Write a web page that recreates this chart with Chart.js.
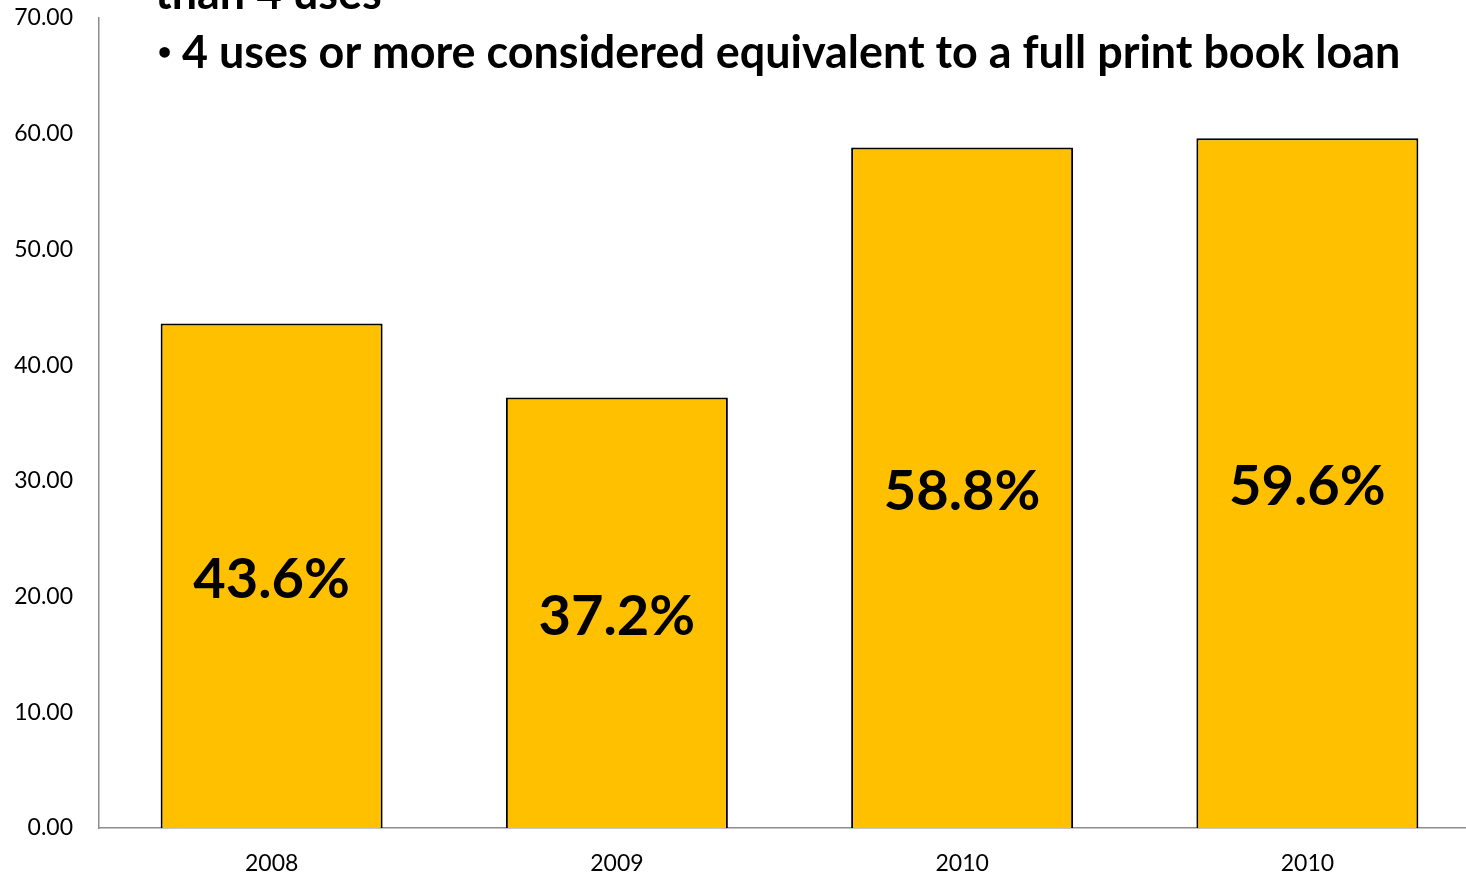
<!DOCTYPE html>
<html>
<head>
<meta charset="utf-8">
<script src="https://cdn.jsdelivr.net/npm/chart.js@4"></script>
<style>
    html, body { margin: 0; padding: 0; background: #fff; overflow: hidden; }
    #wrap { width: 1480px; height: 875px; }
</style>
</head>
<body>
<div id="wrap"><canvas id="usageChart"></canvas></div>
<script>
// Chart data
const years = ['2008', '2009', '2010', '2010'];
const usagePercent = [43.6, 37.2, 58.8, 59.6];
const yTicks = [0, 10, 20, 30, 40, 50, 60, 70];
const headerLines = ['than 4 uses', '4 uses or more considered equivalent to a full print book loan'];

const FONT = 'Lato, "Open Sans", sans-serif';

// Labels inside bars + overlaid text box at the top
const overlayPlugin = {
    id: 'overlay',
    afterDatasetsDraw(chart) {
        const ctx = chart.ctx;
        const meta = chart.getDatasetMeta(0);
        ctx.save();
        ctx.fillStyle = '#000';
        ctx.textAlign = 'center';
        ctx.textBaseline = 'middle';
        ctx.font = 'bold 56px ' + FONT;
        meta.data.forEach((bar, i) => {
            const mid = (bar.y + bar.base) / 2 + 4;
            ctx.fillText(usagePercent[i].toFixed(1) + '%', bar.x, mid);
        });

        // header text, sized so the second line spans the same width as the reference
        ctx.textAlign = 'left';
        ctx.textBaseline = 'alphabetic';
        ctx.font = 'bold 40px ' + FONT;
        const w = ctx.measureText(headerLines[1]).width;
        const size = 40 * 1220 / w;
        ctx.font = 'bold ' + size.toFixed(1) + 'px ' + FONT;
        ctx.fillText(headerLines[0], 155, 9);
        ctx.fillText(headerLines[1], 182, 68);
        ctx.font = 'bold 30px "DejaVu Sans", sans-serif';
        ctx.fillText('\u2022', 155, 64);
        ctx.restore();
    }
};

function createUsageChart() {
    const ctx = document.getElementById('usageChart');
    if (!ctx) {
        console.error('usageChart canvas not found');
        return;
    }

    new Chart(ctx, {
        type: 'bar',
        data: {
            labels: years,
            datasets: [{
                data: usagePercent,
                backgroundColor: '#FFC000',
                borderColor: '#000000',
                borderWidth: 2,
                categoryPercentage: 1,
                barPercentage: 0.643
            }]
        },
        options: {
            responsive: true,
            maintainAspectRatio: false,
            animation: false,
            layout: { padding: { top: 18, left: 0, right: 0, bottom: 0 } },
            plugins: {
                legend: { display: false },
                tooltip: { enabled: false }
            },
            scales: {
                x: {
                    grid: { display: false, drawTicks: false },
                    border: { color: '#8c8c8c', width: 1.5 },
                    ticks: {
                        color: '#000',
                        padding: 22,
                        font: { family: FONT, size: 23 }
                    },
                    afterFit(axis) {
                        axis.height = 47;
                        axis.paddingLeft = 0;
                        axis.paddingRight = 0;
                    }
                },
                y: {
                    min: 0,
                    max: 70,
                    afterBuildTicks(axis) {
                        axis.ticks = yTicks.map(v => ({ value: v }));
                    },
                    grid: { display: false, drawTicks: false },
                    border: { color: '#8c8c8c', width: 1.5 },
                    ticks: {
                        color: '#000',
                        padding: 26,
                        font: { family: FONT, size: 23 },
                        callback: function(value) {
                            return Number(value).toFixed(2);
                        }
                    },
                    afterFit(axis) {
                        axis.width = 99;
                        axis.paddingTop = 0;
                        axis.paddingBottom = 0;
                    }
                }
            }
        },
        plugins: [overlayPlugin]
    });
}

document.addEventListener('DOMContentLoaded', createUsageChart);
</script>
</body>
</html>
